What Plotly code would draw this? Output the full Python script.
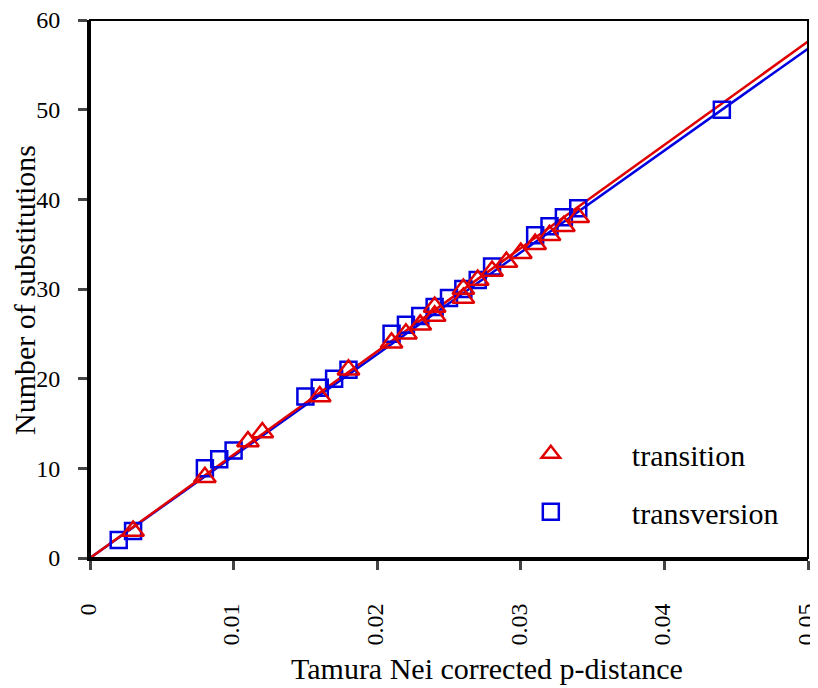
import plotly.graph_objects as go

# transition (red triangles)
ts_x = [0.003, 0.008, 0.011, 0.012, 0.016, 0.018, 0.021, 0.022, 0.023, 0.024, 0.024,
        0.026, 0.026, 0.027, 0.028, 0.029, 0.030, 0.031, 0.032, 0.033, 0.034]
ts_y = [3, 9, 13, 14, 18, 21, 24, 25, 26, 27, 28,
        29, 30, 31, 32, 33, 34, 35, 36, 37, 38]

# transversion (blue squares)
tv_x = [0.002, 0.003, 0.008, 0.009, 0.010, 0.015, 0.016, 0.017, 0.018, 0.021, 0.022,
        0.023, 0.024, 0.025, 0.026, 0.027, 0.028, 0.031, 0.032, 0.033, 0.034, 0.044]
tv_y = [2, 3, 10, 11, 12, 18, 19, 20, 21, 25, 26,
        27, 28, 29, 30, 31, 32.5, 36, 37, 38, 39, 50]

# fitted lines through the origin
fit_x = [0, 0.05]
ts_fit_y = [0, 57.6]
tv_fit_y = [0, 56.8]

x_ticks = [0, 0.01, 0.02, 0.03, 0.04, 0.05]
x_tick_labels = ["0", "0.01", "0.02", "0.03", "0.04", "0.05"]
y_ticks = [0, 10, 20, 30, 40, 50, 60]

x_title = "Tamura Nei corrected p-distance"
y_title = "Number of substitutions"

RED = "#e00000"
BLUE = "#0000e0"
FONT = "'Liberation Serif', 'Times New Roman', 'DejaVu Serif', serif"

fig = go.Figure()
fig.add_trace(go.Scatter(x=fit_x, y=tv_fit_y, mode="lines",
                         line=dict(color=BLUE, width=2.5), showlegend=False))
fig.add_trace(go.Scatter(x=fit_x, y=ts_fit_y, mode="lines",
                         line=dict(color=RED, width=2.5), showlegend=False))
fig.add_trace(go.Scatter(x=tv_x, y=tv_y, mode="markers", name="transversion",
                         legendgroup="b", legendrank=2,
                         marker=dict(symbol="square-open", size=16, color=BLUE,
                                     line=dict(width=2.5, color=BLUE))))
fig.add_trace(go.Scatter(x=ts_x, y=ts_y, mode="markers", name="transition",
                         legendgroup="a", legendrank=1,
                         marker=dict(symbol="triangle-up-open", size=19, color=RED,
                                     line=dict(width=2.5, color=RED))))

fig.update_layout(
    width=818, height=680,
    margin=dict(l=82, r=18, t=12, b=130, autoexpand=False),
    plot_bgcolor="white", paper_bgcolor="white",
    font=dict(family=FONT, color="black", size=22),
    legend=dict(x=0.529, y=0.242, xanchor="left", yanchor="top",
                font=dict(family=FONT, size=30), itemwidth=152,
                traceorder="grouped", tracegroupgap=16,
                bgcolor="rgba(0,0,0,0)"),
    xaxis=dict(range=[0, 0.05], tickvals=x_ticks, ticktext=x_tick_labels,
               tickangle=-90, ticks="outside", ticklen=9, tickwidth=3,
               ticklabelstandoff=24, ticklabelshift=-2,
               ticklabeloverflow="allow", automargin=False,
               showline=True, linewidth=3, linecolor="black", showgrid=False,
               zeroline=False, tickfont=dict(size=24)),
    yaxis=dict(range=[0, 60], tickvals=y_ticks, ticks="outside", ticklen=9,
               tickwidth=3, ticklabelstandoff=13, ticklabeloverflow="allow",
               ticksuffix=" ", automargin=False,
               showline=True, linewidth=3, linecolor="black",
               showgrid=False, zeroline=False, tickfont=dict(size=24)),
    shapes=[dict(type="rect", xref="paper", yref="paper", x0=0, y0=0, x1=1, y1=1,
                 line=dict(color="black", width=2), layer="above")],
    annotations=[
        dict(text=x_title, xref="paper", yref="paper", x=0.553, y=-0.2045,
             xanchor="center", yanchor="middle", showarrow=False,
             font=dict(family=FONT, size=30, color="black")),
        dict(text=y_title, xref="paper", yref="paper", x=-0.092, y=0.498,
             xanchor="center", yanchor="middle", showarrow=False, textangle=-90,
             font=dict(family=FONT, size=30, color="black")),
    ],
)

fig.write_html("out.html")
